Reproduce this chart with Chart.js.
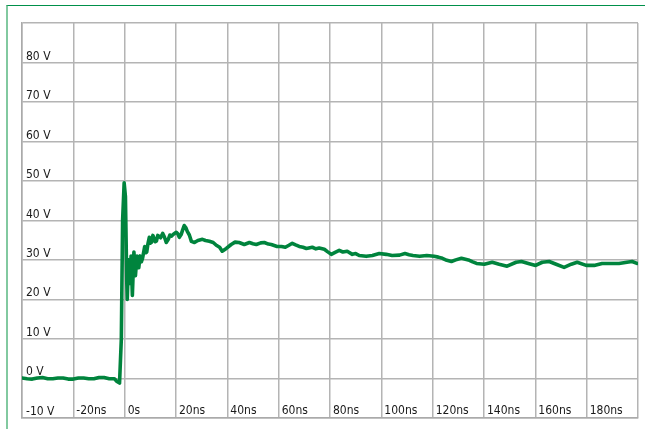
<!DOCTYPE html>
<html>
<head>
<meta charset="utf-8">
<script src="https://cdn.jsdelivr.net/npm/chart.js@4"></script>
<style>
  body { margin: 0; background: #fff; }
  #frame {
    position: absolute; left: 6px; top: 5px; width: 639px; height: 424px;
    border-top: 1px solid #00904a; border-left: 2px solid #82c9a0;
    pointer-events: none;
  }
  #scopeChart { position: absolute; left: 0; top: 0; }
</style>
</head>
<body>
<div id="frame"></div>
<canvas id="scopeChart" width="645" height="429"></canvas>
<script>
// time (ns) and voltage (V)
const times = [
  -40, -38, -36, -34, -32, -30, -28, -26, -24, -22, -20, -18, -16, -14, -12, -10, -8, -6, -4, -3, -2,
  -1.3, -0.8, -0.2, 0.3, 0.8, 1.0, 1.5, 2.0, 2.5, 3.0, 3.6, 4.2, 4.8, 5.5, 6.0,
  6.5, 7.0, 7.8, 8.3, 8.6, 9.1, 9.6, 10.0, 10.5, 11.0, 11.4, 11.9, 12.4, 12.9, 13.3, 14.0,
  14.8, 15.5, 16.2, 17.0, 17.6, 18.2, 19.0, 20.1, 20.7, 21.3, 22.0, 22.6, 23.2, 23.8,
  24.4, 25.2, 26.0, 27.2, 28.5, 30.3, 31.5, 33.0, 34.5, 35.7, 37.0, 38.0, 39.6, 41.5,
  43.0, 44.6, 46.6, 48.6, 50.0, 51.3, 53.0, 54.4, 56.0, 57.1, 59.4, 61.1, 62.6, 64.0, 65.3,
  66.6, 68.0, 69.5, 70.8, 73.1, 74.5, 75.8, 77.8, 79.0, 80.5, 82.0, 83.6, 85.0, 86.7, 88.7,
  90.0, 91.4, 94.1, 96.5, 99.2, 101.9, 104.2, 107.1, 109.2, 110.8, 112.3, 114.9, 117.7,
  120.6, 122.2, 123.8, 125.5, 127.3, 129.0, 131.2, 134.3, 135.6, 137.1, 140.1, 143.2,
  145.9, 149.0, 152.5, 154.6, 157.3, 160.1, 162.7, 165.4, 168.1, 171.2, 174.0, 176.3,
  179.8, 182.9, 186.0, 188.7, 192.6, 195.7, 197.7, 199.6
];
const volts = [
  0.1, -0.1, -0.2, 0.1, 0.2, -0.1, -0.1, 0.1, 0.1, -0.2, -0.2, 0.1, 0.1, -0.1, -0.1, 0.2, 0.2, -0.1, -0.1, -0.8, -1.2,
  10, 40, 49.5, 46, 25, 20, 30, 24, 31, 21, 32, 26, 31, 28, 31,
  29.5, 30.5, 33.4, 31.8, 32, 34.2, 35.7, 34.2, 34.5, 36.2, 35.5, 34.6, 34.8, 36.2, 36, 35.6,
  36.7, 35.8, 34.4, 35.2, 36.3, 36, 36.5, 37, 36.6, 35.7, 36.4, 37.6, 38.7, 38.2,
  37.2, 36.3, 34.7, 34.4, 34.9, 35.2, 34.9, 34.7, 34.4, 33.7, 33.2, 32.2, 32.9, 33.9,
  34.5, 34.4, 33.9, 34.4, 34.1, 33.9, 34.3, 34.4, 34.0, 33.9, 33.4, 33.4, 33.2, 33.7, 34.2,
  33.8, 33.4, 33.2, 32.9, 33.2, 32.8, 33.0, 32.7, 32.1, 31.4, 31.9, 32.4, 32.0, 32.2, 31.4,
  31.6, 31.1, 30.9, 31.1, 31.6, 31.4, 31.1, 31.2, 31.6, 31.3, 31.1, 30.9, 31.1,
  30.9, 30.7, 30.4, 29.9, 29.6, 30.0, 30.4, 29.9, 29.5, 29.1, 28.9, 29.4,
  28.9, 28.4, 29.4, 29.6, 29.1, 28.6, 29.4, 29.6, 28.9, 28.1, 28.9, 29.4,
  28.6, 28.6, 29.1, 29.1, 29.1, 29.4, 29.6, 29.1
];

const xTicks = { min: -40, max: 200, step: 20 };
const yTicks = { min: -10, max: 90, step: 10 };

const points = times.map((t, i) => ({ x: t, y: volts[i] }));
const labelFont = { family: "'DejaVu Sans Condensed', 'Liberation Sans Narrow', sans-serif", size: 12 };

const ctx = document.getElementById('scopeChart').getContext('2d');
new Chart(ctx, {
  type: 'line',
  data: {
    datasets: [{
      data: points,
      borderColor: '#00843d',
      borderWidth: 3.6,
      pointRadius: 0,
      tension: 0,
      fill: false,
      borderJoinStyle: 'round',
      borderCapStyle: 'round'
    }]
  },
  options: {
    responsive: false,
    animation: false,
    layout: { padding: { left: 14, top: 23, right: 7, bottom: 11 } },
    plugins: { legend: { display: false }, tooltip: { enabled: false } },
    scales: {
      x: {
        type: 'linear',
        min: xTicks.min, max: xTicks.max,
        border: { color: '#aaaaaa', width: 1.5 },
        grid: { color: '#b4b4b4', lineWidth: 1.5, drawTicks: false },
        ticks: {
          stepSize: xTicks.step, mirror: true, align: 'start', padding: 0,
          labelOffset: 3, maxRotation: 0, autoSkip: false,
          color: '#1a1a1a', font: labelFont,
          callback: v => (v === xTicks.min || v === xTicks.max) ? '' : (v === 0 ? '0s' : v + 'ns')
        }
      },
      y: {
        min: yTicks.min, max: yTicks.max,
        border: { color: '#aaaaaa', width: 1.5 },
        grid: { color: '#b4b4b4', lineWidth: 1.5, drawTicks: false },
        ticks: {
          stepSize: yTicks.step, mirror: true, padding: 4, labelOffset: -6,
          color: '#1a1a1a', font: labelFont,
          callback: v => v === yTicks.max ? '' : v + ' V'
        }
      }
    }
  }
});
</script>
</body>
</html>
